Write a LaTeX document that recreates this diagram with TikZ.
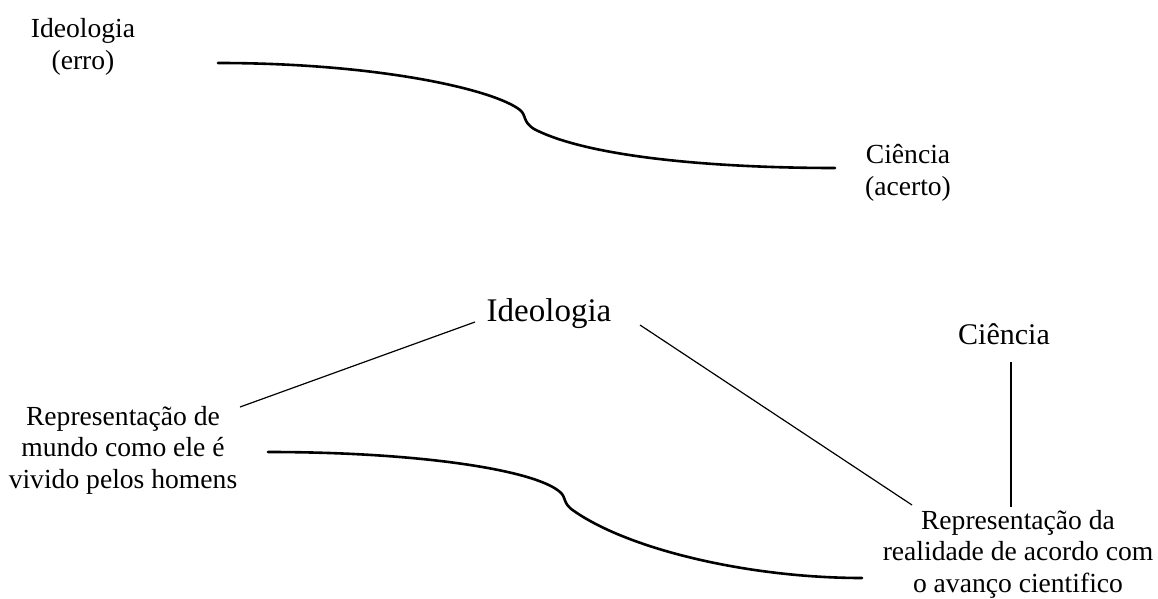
\documentclass[tikz,border=0pt]{standalone}
\usepackage{fontspec}
\setmainfont{Liberation Serif}
\begin{document}
\begin{tikzpicture}[x=1pt,y=-1pt,
  lbl/.style={align=center,font=\fontsize{27.6}{31.5}\selectfont,inner sep=0pt},
  mid/.style={align=center,font=\fontsize{30}{34}\selectfont,inner sep=0pt},
  big/.style={align=center,font=\fontsize{33}{38}\selectfont,inner sep=0pt},
  wave/.style={line width=2.6pt,line cap=round},
  thin/.style={line width=1.2pt}]
\useasboundingbox (0,0) rectangle (1158,599);
% top
\node[lbl] (ie) at (83,47) {Ideologia\\(erro)};
\node[lbl] (ca) at (908,173) {Ciência\\(acerto)};
\coordinate (s1) at (218,63);
\coordinate (e1) at (835,168);
\draw[wave] (s1) .. controls (380,63) and (495,90) .. (520,110)
  .. controls (527,116) and (522,121) .. (534,129)
  .. controls (590,158) and (720,168) .. (e1);
% bottom
\node[big] (id) at (549,314) {Ideologia};
\node[mid] (ci) at (1004,334) {Ciência};
\node[lbl] (rm) at (123,450) {Representação de\\mundo como ele é\\vivido pelos homens};
\node[lbl] (rr) at (1018,554) {Representação da\\realidade de acordo com\\o avanço cientifico};
\coordinate (a1) at (240,407);
\coordinate (a2) at (475,322);
\coordinate (b1) at (640,325);
\coordinate (b2) at (912,505);
\coordinate (c1) at (1011,362);
\coordinate (c2) at (1011,507);
\draw[thin] (a1) -- (a2);
\draw[thin] (b1) -- (b2);
\draw[thin] (c1) -- (c2);
\coordinate (s2) at (268,452);
\coordinate (e2) at (862,578);
\draw[wave] (s2) .. controls (420,452) and (535,470) .. (560,492)
  .. controls (567,498) and (562,503) .. (574,511)
  .. controls (630,550) and (750,578) .. (e2);
\end{tikzpicture}
\end{document}
